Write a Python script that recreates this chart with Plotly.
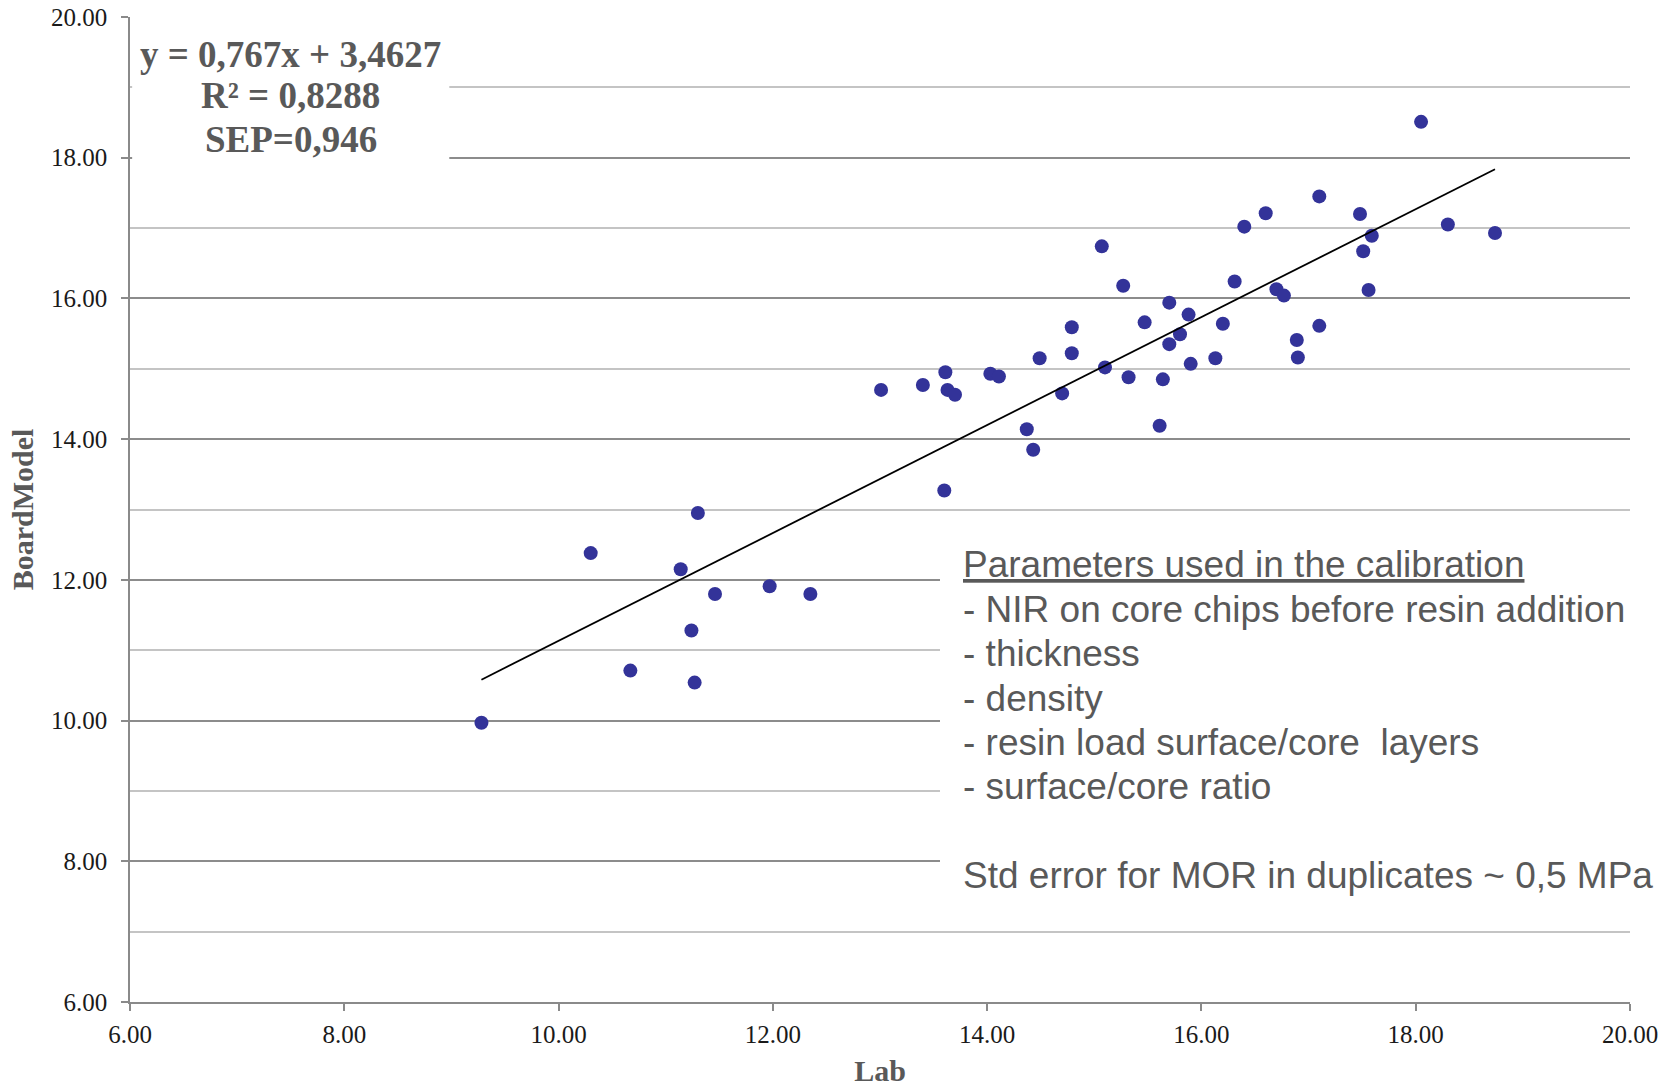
import plotly.graph_objects as go

# Data
lab = [9.28, 10.30, 10.67, 11.14, 11.30, 11.24, 11.27, 11.46, 11.97, 12.35,
       13.01, 13.40, 13.61, 13.63, 13.70, 13.60, 14.03, 14.11, 14.49, 14.37,
       14.43, 14.70, 14.79, 14.79, 15.07, 15.10, 15.27, 15.32, 15.47, 15.61,
       15.64, 15.70, 15.70, 15.80, 15.88, 15.90, 16.13, 16.20, 16.31, 16.40,
       16.60, 16.70, 16.77, 16.89, 16.90, 17.10, 17.10, 17.48, 17.51, 17.59,
       17.56, 18.05, 18.30, 18.74]
board_model = [9.97, 12.38, 10.71, 12.15, 12.95, 11.28, 10.54, 11.80, 11.91, 11.80,
               14.70, 14.77, 14.95, 14.70, 14.63, 13.27, 14.93, 14.89, 15.15, 14.14,
               13.85, 14.65, 15.59, 15.22, 16.74, 15.02, 16.18, 14.88, 15.66, 14.19,
               14.85, 15.94, 15.35, 15.49, 15.77, 15.07, 15.15, 15.64, 16.24, 17.02,
               17.21, 16.13, 16.04, 15.41, 15.16, 17.45, 15.61, 17.20, 16.67, 16.89,
               16.12, 18.51, 17.05, 16.93]
slope = 0.767
intercept = 3.4627

y_ticks = [6, 8, 10, 12, 14, 16, 18, 20]
x_ticks = [6, 8, 10, 12, 14, 16, 18, 20]

eq_lines = ["y = 0,767x + 3,4627", "R² = 0,8288", "SEP=0,946"]
param_lines = ["<u>Parameters used in the calibration</u>",
               "- NIR on core chips before resin addition",
               "- thickness",
               "- density",
               "- resin load surface/core  layers",
               "- surface/core ratio",
               "",
               "Std error for MOR in duplicates ~ 0,5 MPa"]

SERIF = "Liberation Serif, Times New Roman, serif"
SANS = "Liberation Sans, Arial, sans-serif"
GRAY_TXT = "#595959"

fig = go.Figure()

fig.add_trace(go.Scatter(
    x=lab, y=board_model, mode="markers",
    marker=dict(color="#333399", size=14, line=dict(width=0)),
    showlegend=False, hoverinfo="x+y"))

x_min, x_max = min(lab), max(lab)
fig.add_trace(go.Scatter(
    x=[x_min, x_max], y=[slope * x_min + intercept, slope * x_max + intercept],
    mode="lines", line=dict(color="black", width=1.8),
    showlegend=False, hoverinfo="skip"))

# white boxes hiding gridlines behind text
fig.add_shape(type="rect", xref="x", yref="y", x0=6.02, x1=8.98, y0=17.5, y1=19.75,
              fillcolor="white", line=dict(width=0), layer="between")
fig.add_shape(type="rect", xref="x", yref="y", x0=13.56, x1=20.5, y0=7.4, y1=12.6,
              fillcolor="white", line=dict(width=0), layer="between")

eq_y = [0.9624, 0.9198, 0.8761]
for txt, yy in zip(eq_lines, eq_y):
    fig.add_annotation(xref="paper", yref="paper", x=0.107, y=yy, text="<b>" + txt + "</b>",
                       showarrow=False, xanchor="center", yanchor="middle",
                       font=dict(family=SERIF, size=37, color=GRAY_TXT))

p_y0 = 0.4437
p_step = 0.04505
for i, txt in enumerate(param_lines):
    if not txt:
        continue
    fig.add_annotation(xref="paper", yref="paper", x=0.5541, y=p_y0 - i * p_step, text=txt,
                       showarrow=False, xanchor="left", yanchor="middle", align="left",
                       font=dict(family=SANS, size=37, color=GRAY_TXT))

fig.update_layout(
    width=1678, height=1087,
    margin=dict(l=130, r=48, t=17, b=85),
    paper_bgcolor="white", plot_bgcolor="white",
    font=dict(family=SERIF, color="#1a1a1a"),
    xaxis=dict(
        range=[6, 20], tickvals=x_ticks, tickformat=".2f", automargin=False,
        showgrid=False, zeroline=False,
        showline=True, linecolor="#8a8a8a", linewidth=1.6,
        ticks="outside", ticklen=7, tickcolor="#8a8a8a", tickwidth=1.6,
        tickfont=dict(family=SERIF, size=25, color="#1a1a1a"),
        ticklabelstandoff=2,
        title=dict(text="<b>Lab</b>", font=dict(family=SERIF, size=30, color=GRAY_TXT), standoff=15),
    ),
    yaxis=dict(
        range=[6, 20], tickvals=y_ticks, tickformat=".2f", automargin=False,
        showgrid=True, gridcolor="#8c8c8c", gridwidth=1.6, zeroline=False,
        showline=True, linecolor="#8a8a8a", linewidth=1.6,
        ticks="outside", ticklen=7, tickcolor="#8a8a8a", tickwidth=1.6,
        tickfont=dict(family=SERIF, size=25, color="#1a1a1a"),
        ticklabelstandoff=9,
        minor=dict(dtick=1, tick0=6, showgrid=True, gridcolor="#c4c4c4", gridwidth=1.6),
        title=dict(text="<b>BoardModel</b>", font=dict(family=SERIF, size=30, color=GRAY_TXT), standoff=8),
    ),
)

fig.write_html("out.html")
